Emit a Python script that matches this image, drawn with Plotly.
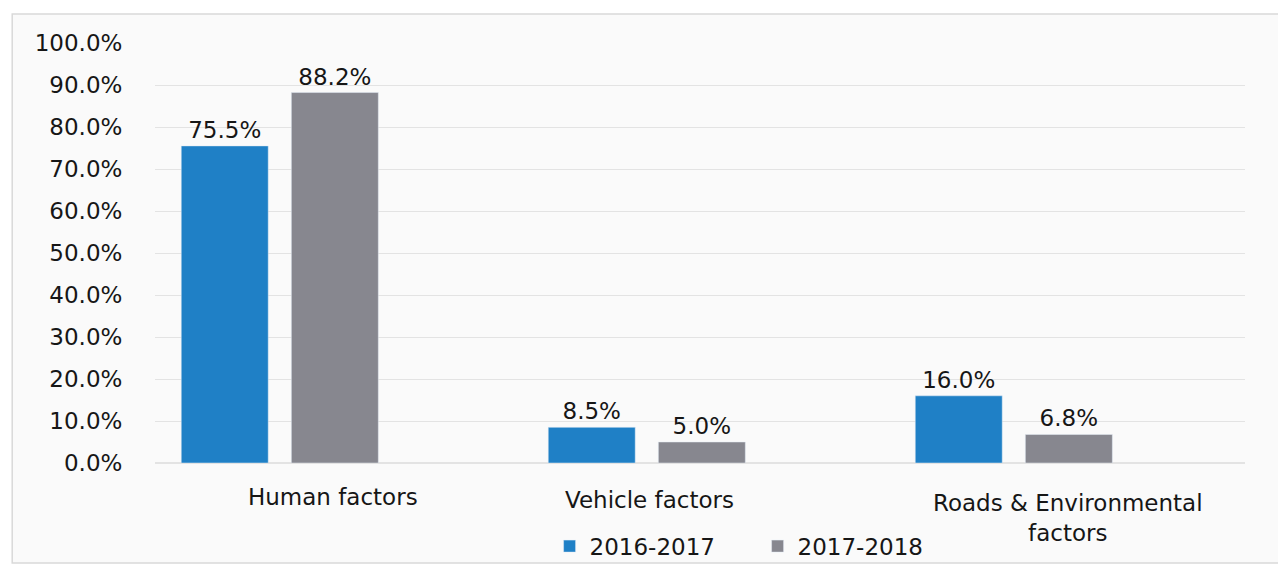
import plotly.graph_objects as go

categories = ["Human factors", "Vehicle factors", "Roads & Environmental factors"]
cat_labels = ["Human factors", "Vehicle factors", "Roads & Environmental<br>factors"]
series_names = ["2016-2017", "2017-2018"]
values_2016_2017 = [75.5, 8.5, 16.0]
values_2017_2018 = [88.2, 5.0, 6.8]
y_ticks = [0, 10, 20, 30, 40, 50, 60, 70, 80, 90, 100]
y_tick_labels = [f"{v:.1f}%" for v in y_ticks]

FONT = "DejaVu Sans"
TXT = "#161616"
BLUE = "#1f80c6"
GRAY = "#87878f"

fig = go.Figure()
for name, vals, col in [(series_names[0], values_2016_2017, BLUE),
                        (series_names[1], values_2017_2018, GRAY)]:
    fig.add_trace(go.Bar(
        x=categories, y=vals, name=name, marker_color=col,
        text=[f"{v:.1f}%" for v in vals], textposition="outside",
        textfont=dict(family=FONT, size=23, color=TXT),
        cliponaxis=False,
    ))

label_shift = [53, 3, 54]
label_yshift = [-34, -37, -25]
for cat, lab, xs, ys in zip(categories, cat_labels, label_shift, label_yshift):
    fig.add_annotation(x=cat, y=0, xref="x", yref="y", text=lab, showarrow=False,
                       xshift=xs, yshift=ys, yanchor="middle" if "<br>" not in lab else "top",
                       font=dict(family=FONT, size=23, color=TXT), align="center")

fig.add_shape(type="rect", xref="paper", yref="paper", x0=-0.131, x1=1.034, y0=-0.238, y1=1.069,
              line=dict(color="#d9d9d9", width=1.5), fillcolor="#fafafa", layer="below")

fig.update_layout(
    width=1286, height=567,
    margin=dict(l=147, r=49, t=35, b=112, autoexpand=False),
    paper_bgcolor="white", plot_bgcolor="rgba(0,0,0,0)",
    barmode="group", bargap=0.4, bargroupgap=0.21,
    font=dict(family=FONT, size=23, color=TXT),
    showlegend=True,
    legend=dict(orientation="h", x=0.362, xanchor="left", y=-0.198, yanchor="middle",
                font=dict(family=FONT, size=23, color=TXT), bgcolor="rgba(0,0,0,0)",
                itemwidth=30, entrywidth=163, entrywidthmode="pixels"),
    xaxis=dict(range=[-0.34, 2.63], showticklabels=False, showgrid=False, zeroline=False,
               showline=False, ticks="", automargin=False),
    yaxis=dict(range=[0, 100], tickvals=y_ticks, ticktext=y_tick_labels, showgrid=True,
               gridcolor="#e3e3e3", gridwidth=1, zeroline=True, zerolinecolor="#e3e3e3",
               showline=False, ticks="outside", ticklen=27, tickcolor="rgba(0,0,0,0)",
               automargin=False,
               tickfont=dict(family=FONT, size=23, color=TXT)),
)

fig.write_html("out.html")
